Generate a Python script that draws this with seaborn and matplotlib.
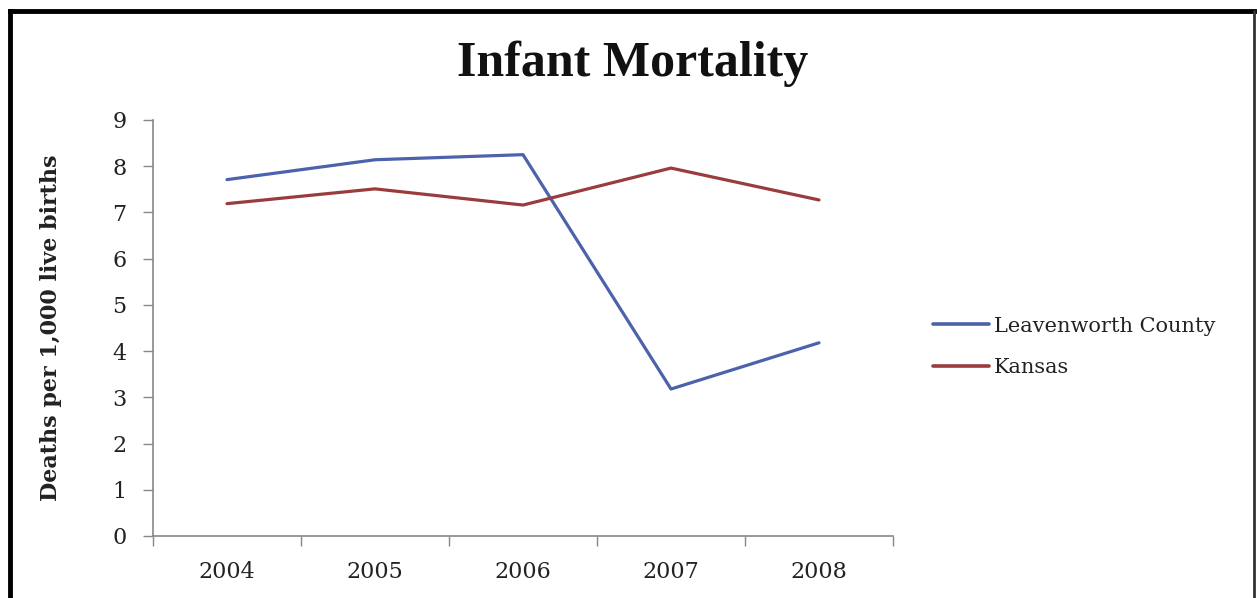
import matplotlib
matplotlib.use("Agg")
import matplotlib.pyplot as plt
import seaborn as sns
import pandas as pd
from matplotlib.lines import Line2D
from matplotlib.ticker import FixedLocator

years = ["2004", "2005", "2006", "2007", "2008"]
leavenworth = [7.71, 8.14, 8.25, 3.18, 4.18]
kansas = [7.19, 7.51, 7.16, 7.96, 7.27]
series_names = ["Leavenworth County", "Kansas"]
colors = ["#4C62AA", "#9A3B3D"]
title = "Infant Mortality"
ylabel = "Deaths per 1,000 live births"

df = pd.DataFrame({
    "year": years * 2,
    "value": leavenworth + kansas,
    "series": [series_names[0]] * len(years) + [series_names[1]] * len(years),
})

sns.set_theme(style="white")
plt.rcParams["font.family"] = ["DejaVu Serif", "Liberation Serif"]

fig = plt.figure(figsize=(12.57, 5.98), dpi=100)
ax = fig.add_axes([153 / 1257, 1 - 536 / 598, (893 - 153) / 1257, (536 - 120) / 598])

sns.lineplot(data=df, x="year", y="value", hue="series", palette=colors,
             linewidth=2.3, sort=False, ax=ax, legend=True)

ax.set_xlim(-0.5, len(years) - 0.5)
ax.set_ylim(0, 9)
ax.set_yticks(range(0, 10))
ax.set_xticks(range(len(years)))
ax.set_xticklabels(years)
ax.xaxis.set_minor_locator(FixedLocator([i - 0.5 for i in range(len(years) + 1)]))
ax.tick_params(axis="x", which="major", length=0, labelsize=16, pad=18, colors="#222222")
ax.tick_params(axis="x", which="minor", length=7, width=1, color="#888888", direction="out", bottom=True)
ax.tick_params(axis="y", which="major", length=7, width=1, color="#888888", direction="out",
               left=True, labelsize=16, pad=12, labelcolor="#222222")

for s in ["top", "right"]:
    ax.spines[s].set_visible(False)
for s in ["left", "bottom"]:
    ax.spines[s].set_color("#888888")
    ax.spines[s].set_linewidth(1.2)

ax.set_xlabel("")
ax.set_ylabel(ylabel, fontsize=16, fontweight="bold", color="#222222")
ax.yaxis.set_label_coords((62 - 153) / 740, 0.5)

fig.text(633 / 1257, 1 - 64 / 598, title, ha="center", va="center",
         fontsize=36, fontweight="bold", color="#111111", family="Liberation Serif")

leg = ax.legend(loc="center left", bbox_to_anchor=(914 / 1257, 1 - 347 / 598),
                bbox_transform=fig.transFigure, frameon=False, fontsize=15,
                handlelength=2.7, handletextpad=0.25, labelspacing=1.1)
for t in leg.get_texts():
    t.set_color("#222222")
for h in leg.get_lines():
    h.set_linewidth(2.6)

# Outer frame (left, top, right)
fig.add_artist(Line2D([10 / 1257, 10 / 1257], [0, 1 - 11 / 598], transform=fig.transFigure,
                      color="black", linewidth=3.5, solid_capstyle="projecting"))
fig.add_artist(Line2D([10 / 1257, 1254 / 1257], [1 - 11 / 598, 1 - 11 / 598], transform=fig.transFigure,
                      color="black", linewidth=3.5, solid_capstyle="projecting"))
fig.add_artist(Line2D([1254 / 1257, 1254 / 1257], [0, 1 - 11 / 598], transform=fig.transFigure,
                      color="#333333", linewidth=2.0))

fig.savefig("out.png", dpi=100)
